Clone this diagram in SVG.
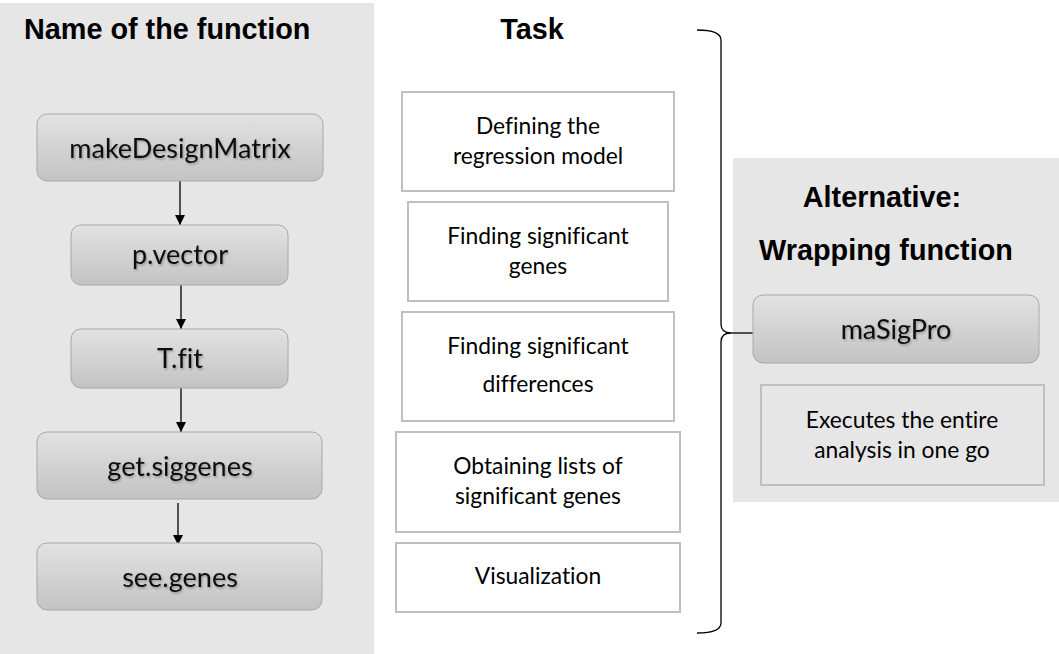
<svg xmlns="http://www.w3.org/2000/svg" width="1059" height="654" viewBox="0 0 1059 654">
<defs>
<linearGradient id="btn" x1="0" y1="0" x2="0" y2="1">
<stop offset="0" stop-color="#e2e2e2"/>
<stop offset="1" stop-color="#c3c3c3"/>
</linearGradient>
<marker id="arr" viewBox="0 0 10 10" refX="10" refY="5" markerWidth="10" markerHeight="10" markerUnits="userSpaceOnUse" orient="auto">
<path d="M0,0 L10,5 L0,10 Z" fill="#000"/>
</marker>
<filter id="sh" x="-10%" y="-20%" width="120%" height="140%">
<feDropShadow dx="1" dy="1.5" stdDeviation="1" flood-color="#000" flood-opacity="0.3"/>
</filter>
<style>
.panel{fill:#e7e6e6}
.fn{fill:url(#btn);stroke:#a8a8a8;stroke-width:1}
.fnt{font-family:Lato,"Liberation Sans",sans-serif;font-size:27px;fill:#111;text-anchor:middle;filter:url(#sh);font-variant-ligatures:none}
.task{fill:#fff;stroke:#bfbfbf;stroke-width:2}
.tt{font-family:Lato,"Liberation Sans",sans-serif;font-size:22.8px;fill:#000;text-anchor:middle;font-variant-ligatures:none}
.hd{font-family:"Liberation Sans",Arial,sans-serif;font-weight:bold;font-size:28.8px;fill:#000}
.conn{stroke:#000;stroke-width:1.3;fill:none}
</style>
</defs>
<rect class="panel" x="0" y="3" width="374" height="651"/>
<rect class="panel" x="733" y="158" width="326" height="344"/>
<text class="hd" x="24" y="39">Name of the function</text>
<text class="hd" x="532" y="39" text-anchor="middle">Task</text>
<text class="hd" x="882" y="207" text-anchor="middle">Alternative:</text>
<text class="hd" x="886" y="260" text-anchor="middle">Wrapping function</text>

<g id="connectors">
<line class="conn" x1="180" y1="181" x2="180" y2="225" marker-end="url(#arr)"/>
<line class="conn" x1="181" y1="285" x2="181" y2="329" marker-end="url(#arr)"/>
<line class="conn" x1="181" y1="388" x2="181" y2="432" marker-end="url(#arr)"/>
<line class="conn" x1="178" y1="503" x2="178" y2="545" marker-end="url(#arr)"/>
<path class="conn" d="M697,30 Q721,30 721,40 L721,324 Q721,333 731,333 Q721,333 721,342 L721,623 Q721,633 697,633"/>
<line class="conn" x1="731" y1="333" x2="753" y2="333"/>
</g>

<g id="makeDesignMatrix"><rect class="fn" x="37" y="114" width="286" height="67" rx="10"/><text class="fnt" x="180" y="158">makeDesignMatrix</text></g>
<g id="pvector"><rect class="fn" x="71" y="225" width="217" height="60" rx="10"/><text class="fnt" x="180" y="264">p.vector</text></g>
<g id="Tfit"><rect class="fn" x="71" y="329" width="217" height="59" rx="10"/><text class="fnt" x="180" y="368">T.fit</text></g>
<g id="getsiggenes"><rect class="fn" x="37" y="432" width="285" height="67" rx="10"/><text class="fnt" x="180" y="476">get.siggenes</text></g>
<g id="seegenes"><rect class="fn" x="37" y="543" width="285" height="67" rx="10"/><text class="fnt" x="180" y="587">see.genes</text></g>

<g id="task1"><rect class="task" x="402" y="92" width="272" height="99"/><text class="tt" x="538" y="134">Defining the</text><text class="tt" x="538" y="164">regression model</text></g>
<g id="task2"><rect class="task" x="408" y="202" width="260" height="99"/><text class="tt" x="538" y="244">Finding significant</text><text class="tt" x="538" y="274">genes</text></g>
<g id="task3"><rect class="task" x="402" y="312" width="272" height="109"/><text class="tt" x="538" y="354">Finding significant</text><text class="tt" x="538" y="392">differences</text></g>
<g id="task4"><rect class="task" x="396" y="432" width="284" height="100"/><text class="tt" x="538" y="474">Obtaining lists of</text><text class="tt" x="538" y="504">significant genes</text></g>
<g id="task5"><rect class="task" x="396" y="543" width="284" height="69"/><text class="tt" x="538" y="584">Visualization</text></g>

<g id="maSigPro"><rect class="fn" x="753" y="295" width="286" height="68" rx="10"/><text class="fnt" x="896" y="339">maSigPro</text></g>
<g id="executes"><rect class="task" x="761" y="385" width="283" height="100" style="fill:#e7e6e6"/><text class="tt" x="902" y="428">Executes the entire</text><text class="tt" x="902" y="458">analysis in one go</text></g>
</svg>
